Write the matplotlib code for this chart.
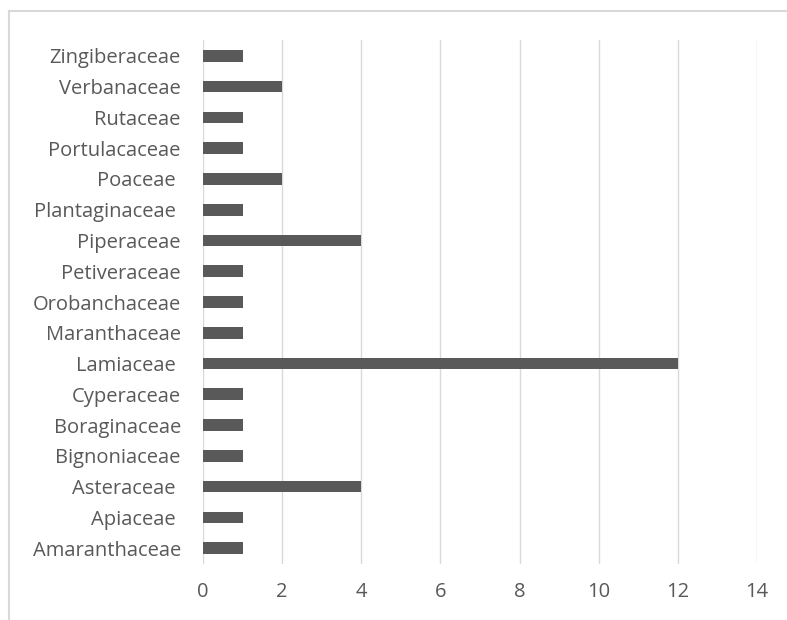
import matplotlib.pyplot as plt
from matplotlib.lines import Line2D

# families, bottom to top as drawn
families = ["Amaranthaceae", "Apiaceae ", "Asteraceae ", "Bignoniaceae", "Boraginaceae",
            "Cyperaceae", "Lamiaceae ", "Maranthaceae", "Orobanchaceae", "Petiveraceae",
            "Piperaceae", "Plantaginaceae ", "Poaceae ", "Portulacaceae", "Rutaceae",
            "Verbanaceae", "Zingiberaceae"]
counts = [1, 1, 4, 1, 1, 1, 12, 1, 1, 1, 4, 1, 2, 1, 1, 2, 1]
xticks = [0, 2, 4, 6, 8, 10, 12, 14]

plt.rcParams['font.family'] = ['Open Sans', 'DejaVu Sans']

fig = plt.figure(figsize=(7.87, 6.2), dpi=100)
ax = fig.add_axes([0.258, 0.0911, 0.704, 0.8436])

ax.barh(range(len(families)), counts, height=0.38, color='#595959', zorder=3)
ax.set_ylim(-0.5, len(families) - 0.5)
ax.set_xlim(0, 14)
ax.set_xticks(xticks)
ax.set_yticks(range(len(families)))
ax.set_yticklabels(families)
ax.xaxis.grid(True, color='#d9d9d9', linewidth=1, zorder=0)
ax.tick_params(length=0, labelsize=14.5, colors='#595959')
ax.tick_params(axis='x', pad=13)
ax.tick_params(axis='y', pad=16)
for s in ax.spines.values():
    s.set_visible(False)

# outer chart frame (only left and top edges are visible in the crop)
fig.add_artist(Line2D([0.012, 0.012], [0, 0.982], color='#d9d9d9', linewidth=1.5))
fig.add_artist(Line2D([0.012, 1], [0.982, 0.982], color='#d9d9d9', linewidth=1.5))

fig.savefig('out.png', dpi=100)
